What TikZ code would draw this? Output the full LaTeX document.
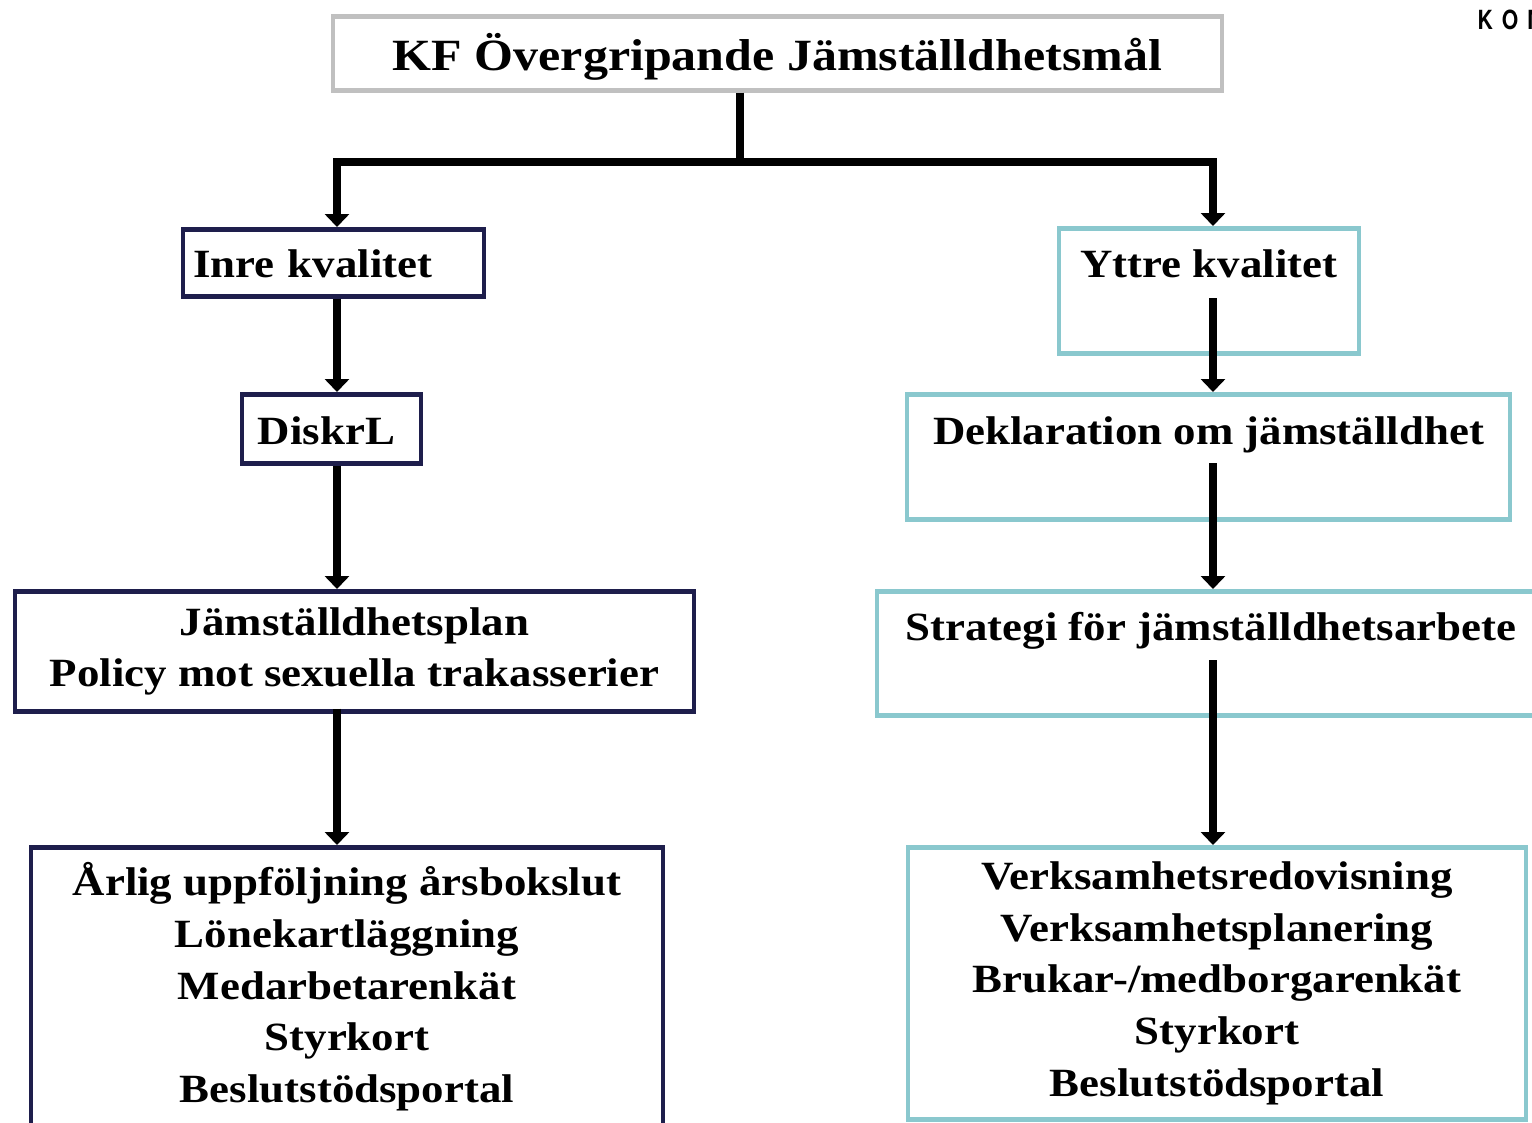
\documentclass[tikz,border=0pt]{standalone}
\usepackage{fontspec}
\setmainfont{Liberation Serif}[FakeStretch=1.12]
\newfontfamily\logofont{TeX Gyre Heros}[FakeStretch=0.8]
\usetikzlibrary{arrows.meta}
\definecolor{navy}{HTML}{1E1E4C}
\definecolor{teal}{HTML}{8AC8CE}
\definecolor{frame}{HTML}{C0C0C0}
\newcommand{\boxfont}{\fontsize{11.4}{14.7}\selectfont\bfseries}
\begin{document}
\begin{tikzpicture}[x=1cm,y=1cm,
    arrow/.style = {line width=0.08cm,-{Triangle[width=0.24cm,length=0.13cm]}},
    trunk/.style = {line width=0.08cm},
    box/.style = {draw,line width=0.045cm,inner sep=0pt,anchor=north,font=\boxfont},
    inner/.style = {box,draw=navy},
    outer/.style = {box,draw=teal}]
    \useasboundingbox (0,0) rectangle (15.32,-11.22);

    % top goal
    \node[box,draw=frame,minimum width=8.89cm,text height=0.54cm,text depth=0.20cm,
        font=\fontsize{12.7}{15}\selectfont\bfseries]
        (kf) at (7.775,-0.14) {KF Övergripande Jämställdhetsmål};
    \node[anchor=north west,inner sep=0pt,font=\logofont\bfseries\fontsize{7.5}{8}\selectfont]
        (logo) at (14.77,-0.09) {K\hspace{0.9mm}O\hspace{0.9mm}M};

    % left column
    \node[inner,minimum width=3.01cm,text height=0.48cm,text depth=0.19cm,
        inner xsep=0.1cm,text width=2.81cm,align=left]
        (inre) at (3.335,-2.27) {Inre kvalitet};
    \node[inner,minimum width=1.79cm,text height=0.50cm,text depth=0.19cm]
        (diskrl) at (3.315,-3.92) {DiskrL\kern0.1cm};
    \node[inner,minimum width=6.79cm,minimum height=1.20cm,align=center]
        (plan) at (3.545,-5.89) {Jämställdhetsplan\\Policy mot sexuella trakasserier};
    \node[inner,minimum width=6.32cm,minimum height=2.79cm,align=center]
        (aarlig) at (3.47,-8.45) {Årlig uppföljning årsbokslut\\Lönekartläggning\\Medarbetarenkät\\Styrkort\\Beslutstödsportal};

    % right column
    \node[outer,minimum width=3.00cm,text height=0.49cm,text depth=0.76cm]
        (yttre) at (12.09,-2.26) {Yttre kvalitet};
    \node[outer,minimum width=6.03cm,text height=0.50cm,text depth=0.75cm]
        (deklaration) at (12.085,-3.92) {Deklaration om jämställdhet};
    \node[outer,minimum width=6.68cm,text height=0.49cm,text depth=0.75cm]
        (strategi) at (12.11,-5.89) {Strategi för jämställdhetsarbete};
    \node[outer,minimum width=6.18cm,minimum height=2.72cm,align=center]
        (verks) at (12.17,-8.45) {Verksamhetsredovisning\\Verksamhetsplanering\\Brukar-/medborgarenkät\\Styrkort\\Beslutstödsportal};

    % connectors
    \coordinate (fork) at (7.40,-1.62);
    \coordinate (leftx) at (3.37,0);
    \coordinate (rightx) at (12.13,0);
    \draw[trunk] (fork |- kf.south) -- (fork);
    \draw[arrow] (fork) -| (leftx |- inre.north);
    \draw[arrow] (fork) -| (rightx |- yttre.north);
    \draw[arrow] (leftx |- inre.south) -- (leftx |- diskrl.north);
    \draw[arrow] (leftx |- diskrl.south) -- (leftx |- plan.north);
    \draw[arrow] ([yshift=0.05cm]leftx |- plan.south) -- (leftx |- aarlig.north);
    \draw[arrow] ([yshift=-0.72cm]rightx |- yttre.north) -- (rightx |- deklaration.north);
    \draw[arrow] ([yshift=-0.71cm]rightx |- deklaration.north) -- (rightx |- strategi.north);
    \draw[arrow] ([yshift=-0.71cm]rightx |- strategi.north) -- (rightx |- verks.north);
\end{tikzpicture}
\end{document}
